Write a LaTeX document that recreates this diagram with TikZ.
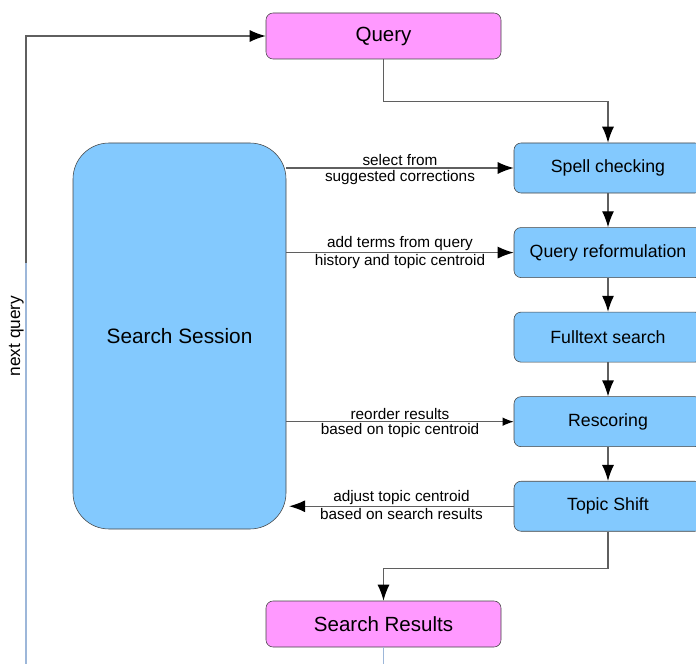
\documentclass[tikz,border=0pt]{standalone}
\usepackage{fontspec}
\setmainfont{Liberation Sans}
\usepackage{xcolor}
\usepackage{tikz}
\usetikzlibrary{arrows.meta, positioning}

\definecolor{stepblue}{HTML}{83C9FE}
\definecolor{endpink}{HTML}{FF99FF}
\definecolor{linegray}{HTML}{5F5F5F}
\definecolor{selblue}{HTML}{9DB7D9}

\tikzset{
    endbox/.style={draw=linegray!70!black, fill=endpink, rounded corners=5pt,
        minimum width=5.875cm, minimum height=1.15cm, font=\fontsize{14.6}{17}\selectfont},
    stepbox/.style={draw=linegray!70!black, fill=stepblue, rounded corners=5pt,
        minimum width=4.7cm, minimum height=1.25cm, font=\fontsize{12.6}{15}\selectfont},
    flow/.style={draw=linegray, line width=0.9pt, -{Latex[length=4mm,width=3mm,color=black]}},
    lbl/.style={font=\fontsize{10.9}{12}\selectfont, inner sep=1pt, text=black}
}

\begin{document}
\begin{tikzpicture}[>=latex, node distance=0.85cm]
    \useasboundingbox (0,0) rectangle (17.4,-16.6);

    % Start und Ende
    \node[endbox] (query) at (9.5875,-0.9) {Query};
    \node[endbox] (results) at (9.5875,-15.6) {Search Results};

    % Verarbeitungsschritte
    \node[stepbox] (spell) at (15.2,-4.2) {Spell checking};
    \node[stepbox, below=of spell] (reform) {Query reformulation};
    \node[stepbox, below=of reform] (fulltext) {Fulltext search};
    \node[stepbox, below=of fulltext] (rescore) {Rescoring};
    \node[stepbox, below=of rescore] (shift) {Topic Shift};

    % Sitzung
    \node[draw=linegray!70!black, fill=stepblue, rounded corners=0.9cm,
        minimum width=5.325cm, minimum height=9.65cm,
        font=\fontsize{14.8}{17}\selectfont] (session) at (4.4875,-8.4) {Search Session};

    % Hauptfluss
    \draw[flow] (query.south) -- ++(0,-1.05) -| (spell.north);
    \foreach \a/\b in {spell/reform, reform/fulltext, fulltext/rescore, rescore/shift} {
        \draw[flow] (\a) -- (\b);
    }
    \draw[flow] (shift.south) -- ++(0,-0.925) -| (results.north);

    % Verbindungen zur Sitzung
    \draw[flow] (session.east |- spell.west) -- (spell.west)
        node[midway, above, lbl] {select from}
        node[midway, below, lbl] {suggested corrections};
    \draw[flow] (session.east |- reform.west) -- (reform.west)
        node[midway, above, lbl] {add terms from query}
        node[midway, below, lbl] {history and topic centroid};
    \draw[draw=linegray, line width=0.9pt, -{Latex[length=2.8mm,width=2.2mm,color=black]}]
        (session.east |- rescore.west) -- (rescore.west)
        node[midway, above, lbl] {reorder results}
        node[midway, below, lbl] {based on topic centroid};
    \draw[flow] (shift.west) -- ([xshift=2pt]session.east |- shift.west)
        node[midway, above, lbl] {adjust topic centroid}
        node[midway, below, lbl] {based on search results};

    % Rueckfuehrung
    \coordinate (turn) at (0.65,-6.575);
    \coordinate (bottomleft) at (0.65,-16.6);
    \coordinate (bottommid) at (9.5875,-16.6);
    \draw[flow] (turn) |- (query.west);
    \draw[selblue, line width=0.9pt] (bottomleft) -- (turn);
    \draw[selblue, line width=0.9pt] (results.south) -- (bottommid);
    \node[lbl, rotate=90, anchor=south, inner sep=0pt, font=\fontsize{12.3}{14}\selectfont] (nextq) at (0.6,-8.4) {next query};
\end{tikzpicture}
\end{document}
